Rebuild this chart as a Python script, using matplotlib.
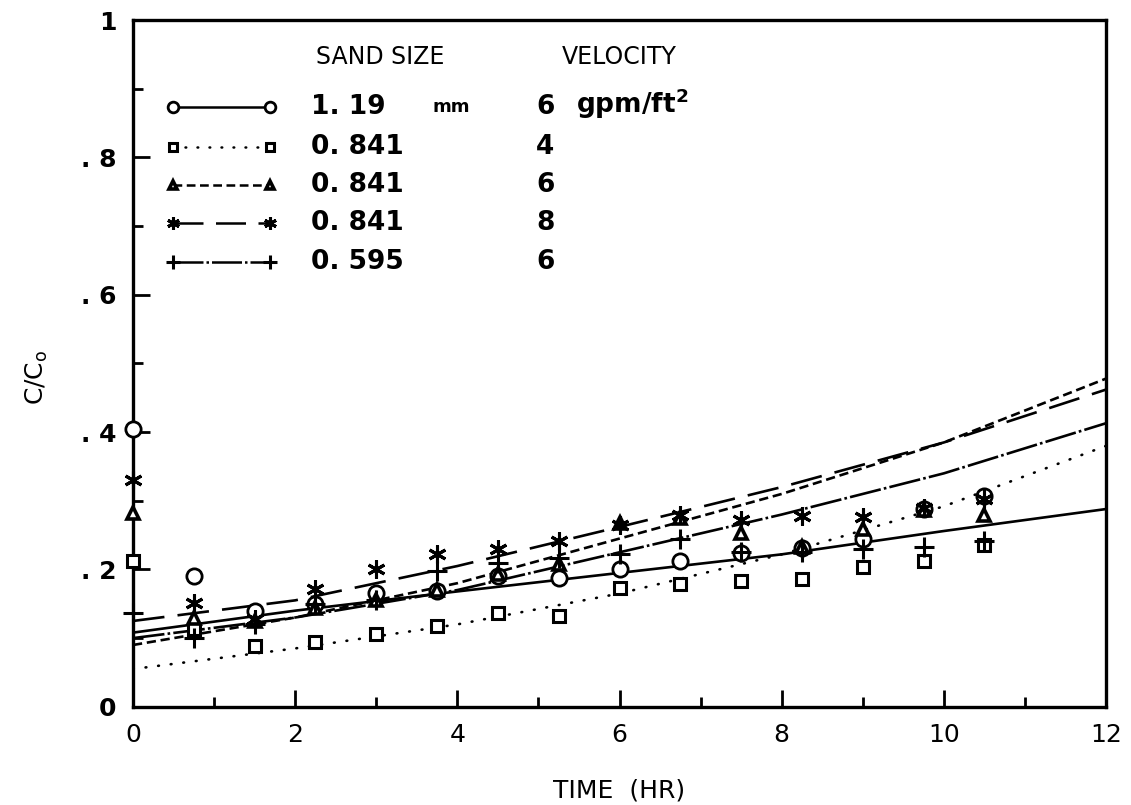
import matplotlib
matplotlib.use("Agg")
import matplotlib.pyplot as plt
from matplotlib.ticker import MultipleLocator

# sampling times of the measured points (hr)
hours = [0, 0.75, 1.5, 2.25, 3.0, 3.75, 4.5, 5.25, 6.0, 6.75, 7.5, 8.25, 9.0, 9.75, 10.5]

# measured C/Co per run
c_119_v6 = [0.405, 0.19, 0.14, 0.15, 0.166, 0.168, 0.19, 0.188, 0.20, 0.212, 0.224, 0.231, 0.244, 0.288, 0.307]
c_841_v4 = [0.212, 0.113, 0.088, 0.095, 0.106, 0.118, 0.137, 0.132, 0.173, 0.179, 0.183, 0.186, 0.204, 0.212, 0.235]
c_841_v6 = [0.282, 0.13, 0.125, 0.144, 0.155, 0.17, 0.193, 0.208, 0.268, 0.275, 0.253, 0.232, 0.259, 0.287, 0.28]
c_841_v8 = [0.331, 0.151, 0.128, 0.172, 0.20, 0.222, 0.23, 0.241, 0.265, 0.28, 0.272, 0.278, 0.277, 0.29, 0.302]
c_595_v6 = [0.137, 0.10, 0.12, 0.15, 0.155, 0.198, 0.21, 0.217, 0.222, 0.245, 0.225, 0.225, 0.23, 0.232, 0.242]

# fitted curves
fit_hours = [0, 2, 4, 6, 8, 10, 12]
fit_119_v6 = [0.108, 0.14, 0.168, 0.195, 0.222, 0.256, 0.288]
fit_841_v4 = [0.055, 0.085, 0.12, 0.165, 0.222, 0.292, 0.38]
fit_841_v6 = [0.09, 0.13, 0.18, 0.245, 0.31, 0.385, 0.478]
fit_841_v8 = [0.125, 0.155, 0.205, 0.262, 0.32, 0.385, 0.462]
fit_595_v6 = [0.10, 0.13, 0.17, 0.225, 0.28, 0.34, 0.413]

sand_sizes = ["1. 19", "0. 841", "0. 841", "0. 841", "0. 595"]
velocities = ["6", "4", "6", "8", "6"]
legend_rows = [0.873, 0.815, 0.76, 0.704, 0.648]

y_ticks = [0, 0.2, 0.4, 0.6, 0.8, 1.0]
y_labels = ["0", ". 2", ". 4", ". 6", ". 8", "1"]
x_ticks = [0, 2, 4, 6, 8, 10, 12]

asterisk = (6, 2, 0)
styles = [
    dict(marker="o", ms=11, mfc="white", mew=2.0, ls="-"),
    dict(marker="s", ms=8, mfc="white", mew=2.2, ls=(0, (0.3, 4.5)), dash_capstyle="round"),
    dict(marker="^", ms=9, mfc="white", mew=2.6, ls=(0, (3.5, 1.8))),
    dict(marker=asterisk, ms=13, mew=2.2, ls=(0, (12, 5))),
    dict(marker="+", ms=14, mew=2.2, ls=(0, (12, 1.2, 1, 1.2))),
]
series = [c_119_v6, c_841_v4, c_841_v6, c_841_v8, c_595_v6]
fits = [fit_119_v6, fit_841_v4, fit_841_v6, fit_841_v8, fit_595_v6]

plt.rcParams["font.family"] = ["DejaVu Sans"]

fig = plt.figure(figsize=(11.31, 8.05), dpi=100)
ax = fig.add_axes([0.1176, 0.122, 0.8604, 0.853])

for vals, fit, st in zip(series, fits, styles):
    ax.plot(fit_hours, fit, color="black", lw=1.9, linestyle=st["ls"],
            dash_capstyle=st.get("dash_capstyle", "butt"))
    ax.plot(hours, vals, linestyle="none", marker=st["marker"], ms=st["ms"],
            mfc=st.get("mfc", "black"), mec="black", mew=st["mew"],
            clip_on=False, zorder=5)

# hand-drawn style legend inside the axes
leg_x = [0.49, 1.69]
for row, size, vel, st in zip(legend_rows, sand_sizes, velocities, styles):
    ax.plot(leg_x, [row, row], color="black", lw=1.8, linestyle=st["ls"],
            dash_capstyle=st.get("dash_capstyle", "butt"))
    ax.plot(leg_x, [row, row], linestyle="none", marker=st["marker"],
            ms=st["ms"] * 0.7, mfc=st.get("mfc", "black"), mec="black",
            mew=st["mew"])
    ax.text(2.2, row, size, fontsize=19, va="center", ha="left", fontweight="bold")
    ax.text(4.97, row, vel, fontsize=19, va="center", ha="left", fontweight="bold")
ax.text(3.69, legend_rows[0], "mm", fontsize=13, va="center", ha="left",
        fontweight="bold")
ax.text(5.46, legend_rows[0] + 0.005, "gpm/ft$^\\mathbf{2}$", fontsize=19,
        va="center", ha="left", fontweight="bold")
ax.text(2.26, 0.946, "SAND SIZE", fontsize=17, va="center", ha="left")
ax.text(5.29, 0.946, "VELOCITY", fontsize=17, va="center", ha="left")

ax.set_xlim(0, 12)
ax.set_ylim(0, 1)
ax.set_xticks(x_ticks)
ax.set_xticklabels([str(t) for t in x_ticks])
ax.set_yticks(y_ticks)
ax.set_yticklabels(y_labels, fontweight="bold")
ax.xaxis.set_minor_locator(MultipleLocator(1))
ax.yaxis.set_minor_locator(MultipleLocator(0.1))
ax.tick_params(which="major", direction="in", length=12, width=2,
               labelsize=18, pad=12)
ax.tick_params(which="minor", direction="in", length=7, width=2)
for sp in ax.spines.values():
    sp.set_linewidth(2.4)

ax.set_xlabel("TIME  (HR)", fontsize=18, labelpad=22)
ax.set_ylabel("C/C$_\\mathrm{o}$", fontsize=18, labelpad=22)
ax.yaxis.set_label_coords(-0.085, 0.48)

fig.savefig("out.png", dpi=100)
